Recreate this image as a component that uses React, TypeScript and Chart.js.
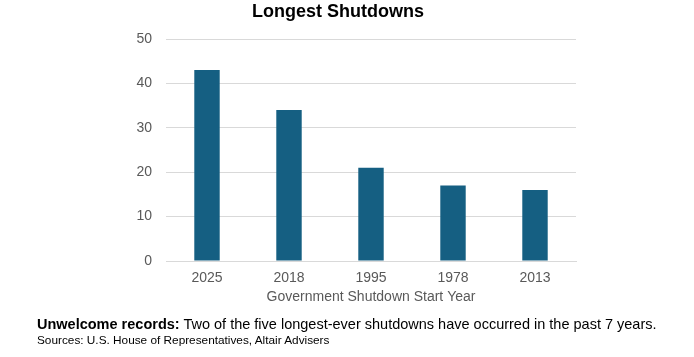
import React, { useEffect, useRef } from "react";
import { Chart, registerables } from "chart.js";

Chart.register(...registerables);

const categories = ["2025", "2018", "1995", "1978", "2013"];
const shutdownDays = [43, 34, 21, 17, 16];
const yTicks = [0, 10, 20, 30, 40, 50];

const chartTitle = "Longest Shutdowns";
const xAxisTitle = "Government Shutdown Start Year";
const noteBold = "Unwelcome records:";
const noteText = " Two of the five longest-ever shutdowns have occurred in the past 7 years.";
const sourceText = "Sources: U.S. House of Representatives, Altair Advisers";

const FONT = "'Liberation Sans', Arial, sans-serif";

export default function App() {
  const ref = useRef<HTMLCanvasElement | null>(null);

  useEffect(() => {
    if (!ref.current) return;
    const chart = new Chart(ref.current, {
      type: "bar",
      data: {
        labels: categories,
        datasets: [
          {
            data: shutdownDays,
            backgroundColor: "#155F82",
            borderWidth: 0,
            barPercentage: 0.62,
            categoryPercentage: 0.5,
          },
        ],
      },
      options: {
        responsive: false,
        animation: false,
        layout: { padding: { left: 100, right: 118, top: 0, bottom: 51 } },
        plugins: {
          legend: { display: false },
          tooltip: { enabled: false },
          title: {
            display: true,
            text: chartTitle,
            color: "#000000",
            font: { family: FONT, size: 18, weight: "bold" },
            padding: { top: 1, bottom: 16.4 },
          },
        },
        scales: {
          x: {
            grid: { display: false, drawTicks: false },
            border: { display: true, color: "#d9d9d9" },
            ticks: {
              color: "#595959",
              font: { family: FONT, size: 14 },
              padding: 9,
            },
            title: {
              display: true,
              text: xAxisTitle,
              color: "#595959",
              font: { family: FONT, size: 14 },
              padding: { top: 2, bottom: 0 },
            },
            afterFit: (s: any) => {
              s.height = 45;
            },
          },
          y: {
            min: 0,
            max: 50,
            afterBuildTicks: (s: any) => {
              s.ticks = yTicks.map((v) => ({ value: v }));
            },
            grid: { color: "#d9d9d9", drawTicks: false },
            border: { display: false },
            ticks: {
              color: "#595959",
              font: { family: FONT, size: 14 },
              padding: 14,
            },
            afterFit: (s: any) => {
              s.width = 66;
            },
          },
        },
      },
    });
    return () => chart.destroy();
  }, []);

  return (
    <div
      style={{
        position: "fixed",
        left: 0,
        top: 0,
        width: 694,
        height: 357,
        background: "#ffffff",
        overflow: "hidden",
      }}
    >
      <canvas ref={ref} width={694} height={357} style={{ display: "block" }} />
      <div
        style={{
          position: "absolute",
          left: 37,
          top: 315,
          fontFamily: FONT,
          fontSize: 14.5,
          color: "#000000",
          whiteSpace: "nowrap",
          lineHeight: "18px",
        }}
      >
        <b>{noteBold}</b>
        {noteText}
      </div>
      <div
        style={{
          position: "absolute",
          left: 37,
          top: 333,
          fontFamily: FONT,
          fontSize: 11.8,
          color: "#000000",
          whiteSpace: "nowrap",
          lineHeight: "14px",
        }}
      >
        {sourceText}
      </div>
    </div>
  );
}
